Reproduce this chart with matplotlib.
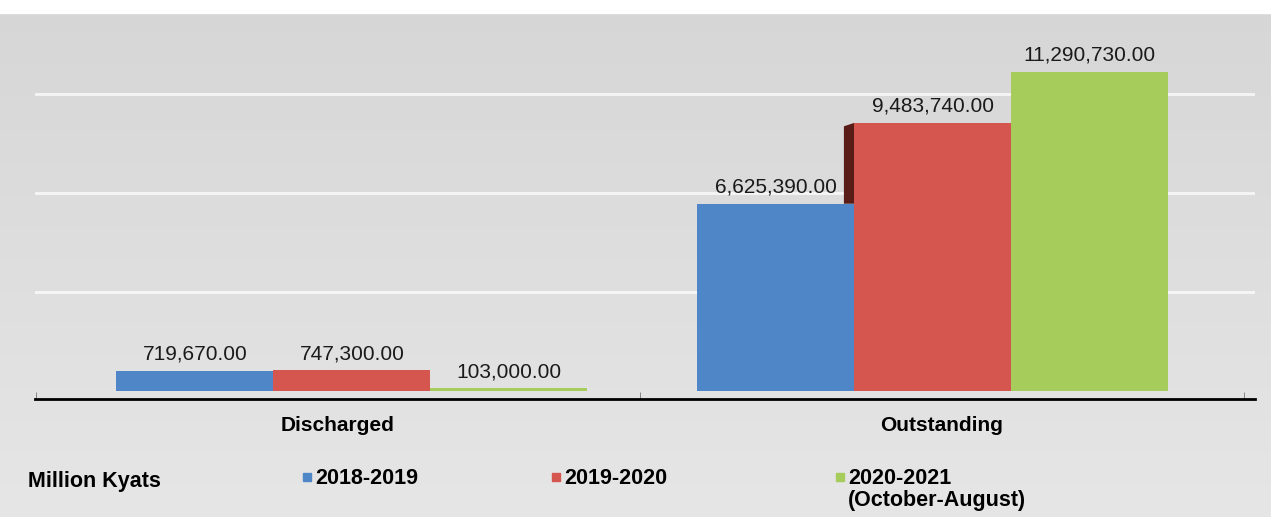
import matplotlib.pyplot as plt
from matplotlib.lines import Line2D
from matplotlib.patches import Rectangle, Polygon
from matplotlib.colors import LinearSegmentedColormap
import numpy as np

plt.rcParams['font.family'] = ['Liberation Sans', 'DejaVu Sans']

# data (million kyats)
categories = ["Discharged", "Outstanding"]
series = ["2018-2019", "2019-2020", "2020-2021\n(October-August)"]
values_1819 = [719670.00, 6625390.00]
values_1920 = [747300.00, 9483740.00]
values_2021 = [103000.00, 11290730.00]
colors = ["#4f86c8", "#d4564f", "#a6cc5c"]
unit_label = "Million Kyats"

W, H = 1271, 517
fig = plt.figure(figsize=(W / 100, H / 100), dpi=100)

# soft grey background with a white strip at the top
bg = fig.add_axes([0, 0, 1, 1], zorder=-10)
grad = np.linspace(0, 1, 256).reshape(-1, 1)
bg.imshow(grad, aspect='auto', extent=[0, 1, 0, 1], origin='upper',
          cmap=LinearSegmentedColormap.from_list('bg', ['#d6d6d6', '#e6e6e6']))
bg.add_patch(Rectangle((0, 1 - 13 / H), 1, 13 / H, color='white'))
bg.set_xlim(0, 1)
bg.set_ylim(0, 1)
bg.axis('off')

ax = fig.add_axes([35 / W, 1 - 399 / H, 1220 / W, 386 / H])
ax.set_facecolor('none')

x = np.arange(len(categories))
w = 0.26
# the original 3D view pushes each group a little off its category centre
group_shift = np.array([0.023, -0.015])
all_vals = [values_1819, values_1920, values_2021]
for i, vals in enumerate(all_vals):
    bars = ax.bar(x + group_shift + (i - 1) * w, vals, w, color=colors[i],
                  zorder=3, edgecolor='none')
    for b, v in zip(bars, vals):
        ax.annotate(f"{v:,.2f}", (b.get_x() + b.get_width() / 2, b.get_height()),
                    xytext=(0, 5), textcoords='offset points', ha='center',
                    va='bottom', fontsize=15, color='#1a1a1a', zorder=5)

# dark side face where the 2019-2020 bar rises above the 2018-2019 bar
dx, dy = 0.017, 0.12e6
for k in range(len(categories)):
    vb, vr = values_1819[k], values_1920[k]
    if vr - vb > 0.5e6:
        xl = x[k] + group_shift[k] - w / 2
        ax.add_patch(Polygon([(xl, vb), (xl, vr), (xl - dx, vr - dy), (xl - dx, vb)],
                             closed=True, color='#5a1c16', zorder=2.5, lw=0))

# gridlines on the back wall
for g in [3.5e6, 7e6, 10.5e6]:
    ax.axhline(g, color='white', lw=2, zorder=1, alpha=0.75)

ax.set_xlim(-0.502, 1.519)
ax.set_ylim(-0.28e6, 13.37e6)
ax.set_yticks([])
ax.set_xticks(x)
ax.set_xticklabels(categories, fontsize=15, fontweight='bold')
ax.set_xticks([-0.5, 0.5, 1.5], minor=True)
ax.tick_params(axis='x', which='major', length=0, pad=12)
ax.tick_params(axis='x', which='minor', length=5, color='#777777', direction='in')
for s in ['top', 'right', 'left']:
    ax.spines[s].set_visible(False)
ax.spines['bottom'].set_color('black')
ax.spines['bottom'].set_linewidth(2)

# legend row
fig.text(28 / W, 1 - 482 / H, unit_label, fontsize=15.5, fontweight='bold',
         va='center', ha='left')
legend_x = [307 / W, 556 / W, 840 / W]
legend_y = 1 - 477 / H
for name, col, lx in zip(series, colors, legend_x):
    fig.add_artist(Line2D([lx], [legend_y], marker='s', color=col, ls='none',
                          markersize=5.5, transform=fig.transFigure))
    fig.text(lx + 8 / W, legend_y + 9 / H, name, fontsize=15.5, fontweight='bold',
             va='top', ha='left', linespacing=1.05)

fig.savefig('out.png', dpi=100)
